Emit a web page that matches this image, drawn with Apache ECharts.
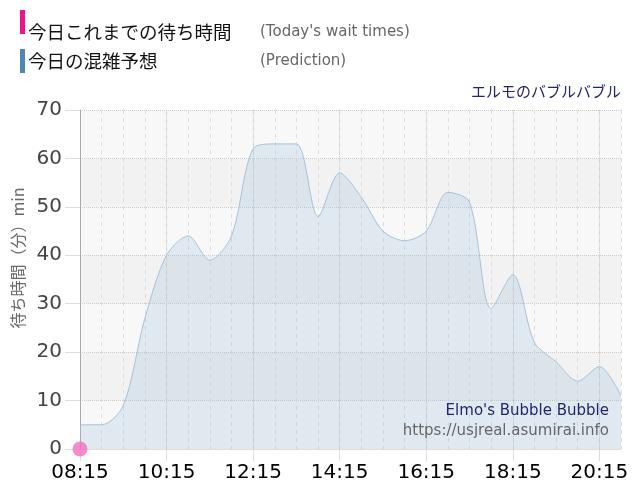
<!DOCTYPE html>
<html>
<head>
<meta charset="utf-8">
<script src="https://cdn.jsdelivr.net/npm/echarts@6/dist/echarts.min.js"></script>
<style>html,body{margin:0;padding:0;background:#fff;}#c{width:640px;height:500px;}</style>
</head>
<body>
<div id="c"></div>
<script>
const times = ['08:15','08:45','09:15','09:45','10:15','10:45','11:15','11:45','12:15','12:45','13:15','13:45','14:15','14:45','15:15','15:45','16:15','16:45','17:15','17:45','18:15','18:45','19:15','19:45','20:15','20:45'];
const prediction = [5,5,9,27,40,44,39,44,62,63,63,48,57,52,45,43,45,53,51,29,36,22,18,14,17,11];
const todayWait = [0];
const yTicks = [0,10,20,30,40,50,60,70];

const todayData = times.map((t,i)=> i < todayWait.length ? todayWait[i] : null);

const chart = echarts.init(document.getElementById('c'), null, {renderer:'canvas'});
const cjk = '"Noto Sans CJK JP", "Noto Sans", sans-serif';
const latin = '"DejaVu Sans", Verdana, sans-serif';
chart.setOption({
  animation:false,
  backgroundColor:'#fff',
  grid:{left:80,right:19,top:110,bottom:51},
  xAxis:[{
    type:'category', data:times, boundaryGap:false,
    axisLine:{show:true,lineStyle:{color:'#dddddd'}},
    axisTick:{show:true,interval:3,length:12,lineStyle:{color:'#dddddd'}},
    axisLabel:{interval:3,fontSize:20,color:'#000',margin:14,fontFamily:latin},
    splitLine:{show:true,interval:0,lineStyle:{color:'#dddddd',type:[4,4]}}
  },{
    type:'category', data:times, boundaryGap:false, position:'bottom',
    axisLine:{show:false}, axisTick:{show:false}, axisLabel:{show:false},
    splitLine:{show:true,interval:3,lineStyle:{color:'#cccccc',type:'dotted'}}
  }],
  yAxis:{
    type:'value', min:yTicks[0], max:yTicks[yTicks.length-1], interval:10,
    axisLine:{show:true,lineStyle:{color:'#aaaaaa'}},
    axisTick:{show:true,length:15,lineStyle:{color:'#dddddd'}},
    axisLabel:{fontSize:20,color:'#444',margin:18,fontFamily:latin},
    splitLine:{show:true,lineStyle:{color:'#cccccc',type:'dotted'}},
    splitArea:{show:true,areaStyle:{color:['#f8f8f8','#f2f2f2']}}
  },
  series:[{
    name:'今日の混雑予想', type:'line', data:prediction, smooth:0.3,
    symbol:'none', lineStyle:{color:'#a6c2da',width:1},
    areaStyle:{color:'rgba(155,188,215,0.36)'}, z:2
  },{
    name:'今日これまでの待ち時間', type:'line', data:todayData, xAxisIndex:0,
    symbol:'circle', symbolSize:15, showSymbol:true, clip:false,
    itemStyle:{color:'rgba(244,110,190,0.8)'}, lineStyle:{color:'#f0148c',width:2}, z:5
  }],
  graphic:[
    {type:'rect',shape:{x:20,y:10,width:5,height:24},style:{fill:'#f0148c'}},
    {type:'rect',shape:{x:20,y:49,width:5,height:24},style:{fill:'#4a86b6'}},
    {type:'text',x:28,y:32,style:{text:'今日これまでの待ち時間',font:'18.5px '+cjk,fill:'#111',verticalAlign:'middle'}},
    {type:'text',x:260,y:32,style:{text:"(Today's wait times)",font:'15px '+latin,fill:'#666',verticalAlign:'middle'}},
    {type:'text',x:28,y:61,style:{text:'今日の混雑予想',font:'18.5px '+cjk,fill:'#111',verticalAlign:'middle'}},
    {type:'text',x:260,y:61,style:{text:'(Prediction)',font:'15px '+latin,fill:'#666',verticalAlign:'middle'}},
    {type:'text',x:621,y:91,style:{text:'エルモのバブルバブル',font:'15px '+cjk,fill:'#23236e',align:'right',verticalAlign:'middle'}},
    {type:'text',x:18,y:258,rotation:Math.PI/2,style:{text:'待ち時間（分）min',font:'16px '+cjk,fill:'#666',align:'center',verticalAlign:'middle'}},
    {type:'text',x:609,y:411,z:10,style:{text:"Elmo's Bubble Bubble",font:'15px '+latin,fill:'#23236e',align:'right',verticalAlign:'middle'}},
    {type:'text',x:609,y:431,z:10,style:{text:'https://usjreal.asumirai.info',font:'15px '+latin,fill:'#666',align:'right',verticalAlign:'middle'}}
  ]
});
</script>
</body>
</html>
